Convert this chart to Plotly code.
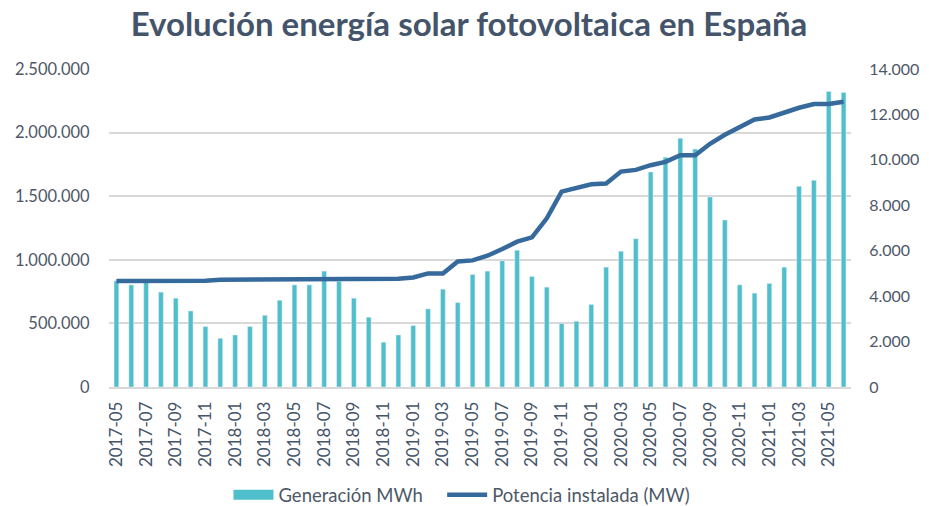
import plotly.graph_objects as go

# monthly data, 2017-05 .. 2021-06
meses = ['2017-05', '2017-06', '2017-07', '2017-08', '2017-09', '2017-10', '2017-11', '2017-12',
         '2018-01', '2018-02', '2018-03', '2018-04', '2018-05', '2018-06', '2018-07', '2018-08',
         '2018-09', '2018-10', '2018-11', '2018-12', '2019-01', '2019-02', '2019-03', '2019-04',
         '2019-05', '2019-06', '2019-07', '2019-08', '2019-09', '2019-10', '2019-11', '2019-12',
         '2020-01', '2020-02', '2020-03', '2020-04', '2020-05', '2020-06', '2020-07', '2020-08',
         '2020-09', '2020-10', '2020-11', '2020-12', '2021-01', '2021-02', '2021-03', '2021-04',
         '2021-05', '2021-06']

generacion_mwh = [835000, 803000, 830000, 746000, 698000, 598000, 475000, 383000,
                  409000, 475000, 564000, 682000, 803000, 803000, 911000, 830000,
                  698000, 549000, 352000, 409000, 483000, 614000, 769000, 664000,
                  885000, 911000, 992000, 1076000, 869000, 785000, 499000, 517000,
                  649000, 942000, 1068000, 1165000, 1690000, 1806000, 1956000, 1871000,
                  1494000, 1312000, 803000, 738000, 814000, 942000, 1578000, 1625000,
                  2323000, 2315000]

potencia_mw = [4670, 4670, 4670, 4670, 4670, 4670, 4680, 4720,
               4720, 4720, 4720, 4720, 4720, 4720, 4720, 4720,
               4720, 4730, 4740, 4765, 4824, 5000, 5000, 5530,
               5574, 5780, 6073, 6397, 6588, 7426, 8603, 8779,
               8926, 8955, 9485, 9559, 9765, 9912, 10206, 10206,
               10706, 11103, 11441, 11779, 11867, 12103, 12294, 12456,
               12456, 12559]

fuente = "Lato"
gris = "#4E5868"
turquesa = "#4FBFCB"
azul = "#36699C"

fig = go.Figure()

fig.add_trace(go.Bar(x=meses, y=generacion_mwh, name="Generación MWh",
                     marker_color=turquesa, width=0.32, yaxis="y", showlegend=False))

# legend swatch for the bars (wide rectangle like Excel)
fig.add_trace(go.Scatter(x=[None], y=[None], name="Generación MWh", mode="lines",
                         line=dict(color=turquesa, width=11), yaxis="y", legend="legend"))

fig.add_trace(go.Scatter(x=meses, y=potencia_mw, name="Potencia instalada (MW)",
                         mode="lines", line=dict(color=azul, width=4.5),
                         yaxis="y2", legend="legend2"))

leyenda = dict(orientation="h", xanchor="left", y=-0.34, yanchor="middle",
               font=dict(size=18.5, color=gris), itemwidth=40)

# the page body has an 8px default margin, so the figure is 8px smaller
fig.update_layout(
    width=921, height=498,
    margin=dict(l=101, r=78, t=61, b=119, autoexpand=False),
    plot_bgcolor="white", paper_bgcolor="white",
    separators=",.",
    font=dict(family=fuente, color=gris, size=17),
    title=dict(text="<b>Evolución energía solar fotovoltaica en España</b>",
               x=0.5005, xanchor="center", y=0.968, yanchor="middle",
               font=dict(size=33, color="#44546A", family=fuente)),
    xaxis=dict(type="category", tickangle=-90, tickvals=meses[::2],
               tickfont=dict(size=17, color="#44546A"),
               showgrid=False, linecolor="#D9D9D9", linewidth=1.5,
               ticks="outside", ticklen=6, tickcolor="white",
               range=[-0.5, len(meses) - 0.5], automargin=False),
    yaxis=dict(range=[0, 2500000], dtick=500000, tickformat=",d",
               gridcolor="#D9D9D9", gridwidth=1.5, zeroline=False,
               tickfont=dict(size=16.5, color=gris), ticks="outside",
               ticklen=15, tickcolor="white", automargin=False),
    yaxis2=dict(range=[0, 14000], dtick=2000, tickformat=",d",
                overlaying="y", side="right", showgrid=False, zeroline=False,
                tickfont=dict(size=16, color=gris), ticks="outside",
                ticklen=14, tickcolor="white", automargin=False),
    legend=dict(leyenda, x=0.161),
    legend2=dict(leyenda, x=0.449),
    bargap=0.68,
)

fig.write_html("out.html")
